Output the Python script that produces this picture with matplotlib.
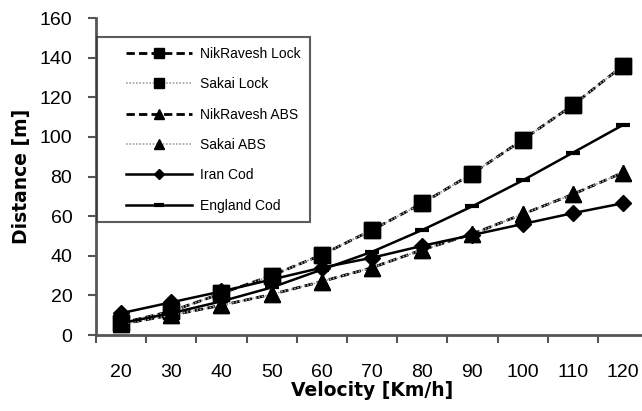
import matplotlib
matplotlib.use("Agg")
import matplotlib.pyplot as plt
from matplotlib.lines import Line2D
from matplotlib.legend_handler import HandlerLine2D
import numpy as np

# values
velocity = [20, 30, 40, 50, 60, 70, 80, 90, 100, 110, 120]
nikravesh_lock = [6, 12, 21, 30, 40.5, 53, 66.5, 81.5, 98.5, 116, 136]
sakai_lock = [6, 12, 21, 30, 40.5, 53, 66.5, 81.5, 98.5, 116, 136]
nikravesh_abs = [5.5, 10, 15, 20.5, 27, 34, 43, 51, 61, 71, 82]
sakai_abs = [5.5, 10, 15, 20.5, 27, 34, 43, 51, 61, 71, 82]
iran_cod = [11, 16.5, 22, 28, 34, 39, 45, 50.5, 56, 61.5, 66.5]
england_cod = [6, 11, 17, 24, 33, 42, 53, 65, 78, 92, 106]

plt.rcParams["font.family"] = ["Liberation Sans", "DejaVu Sans"]

fig = plt.figure(figsize=(6.42, 4.11), dpi=100)
ax = fig.add_axes([0.1495, 0.1849, 0.86, 0.7713])

x = np.arange(len(velocity))
gray = "#a0a0a0"

ax.plot(x, nikravesh_lock, color="black", lw=2, ls=(0, (3, 1.5)),
        marker="s", ms=11, label="NikRavesh Lock")
ax.plot(x, sakai_lock, color=gray, lw=1.2, ls=(0, (1, 1)),
        marker="s", ms=11, mfc="black", mec="black", label="Sakai Lock")
ax.plot(x, nikravesh_abs, color="black", lw=2, ls=(0, (3, 1.5)),
        marker="^", ms=11, label="NikRavesh ABS")
ax.plot(x, sakai_abs, color=gray, lw=1.2, ls=(0, (1, 1)),
        marker="^", ms=11, mfc="black", mec="black", label="Sakai ABS")
ax.plot(x, iran_cod, color="black", lw=1.8, marker="D", ms=8, label="Iran Cod")
ax.plot(x, england_cod, color="black", lw=1.8, marker="_", ms=10, mew=3,
        label="England Cod")

ax.set_xlim(-0.5, len(velocity) - 0.5)
ax.set_ylim(0, 160)
ax.set_yticks(np.arange(0, 161, 20))
ax.set_xticks(x)
ax.set_xticklabels([str(v) for v in velocity])
ax.set_xticks(np.arange(-0.5, len(velocity), 1), minor=True)

ax.tick_params(axis="y", length=6, width=1.5, color="#555555", pad=11, labelsize=14)
ax.tick_params(axis="x", which="major", length=0, pad=21, labelsize=14)
ax.tick_params(axis="x", which="minor", length=6, width=1.5, color="#555555")

for s in ["top", "right"]:
    ax.spines[s].set_visible(False)
for s in ["left", "bottom"]:
    ax.spines[s].set_color("#555555")
    ax.spines[s].set_linewidth(2)

ax.set_ylabel("Distance [m]", fontsize=13.5, fontweight="bold",
              family="DejaVu Sans", labelpad=6)
ax.set_xlabel("Velocity [Km/h]", fontsize=13.5, fontweight="bold",
              family="DejaVu Sans", labelpad=0)

leg = ax.legend(loc="upper left", bbox_to_anchor=(0.002, 0.94), fontsize=10,
                frameon=True, fancybox=False, edgecolor="#333333",
                handlelength=6.1, handletextpad=0.6, labelspacing=1.18,
                borderpad=0.7, markerscale=0.65, borderaxespad=0,
                handler_map={Line2D: HandlerLine2D(xpad=1.4)})
leg.get_frame().set_linewidth(1.5)

fig.savefig("out.png", dpi=100)
